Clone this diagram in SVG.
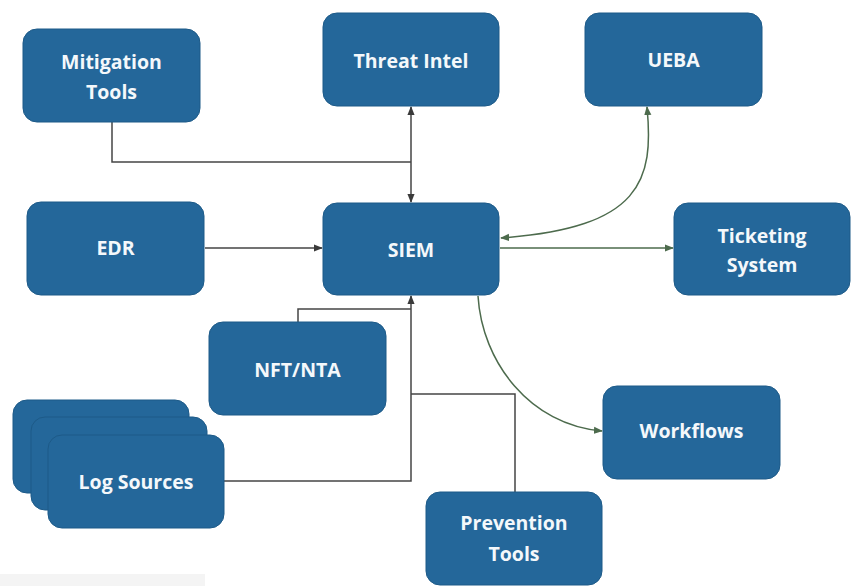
<svg xmlns="http://www.w3.org/2000/svg" width="853" height="586" viewBox="0 0 853 586">
<style>
.n{fill:#24679a;stroke:#1d5a88;stroke-width:1}
.t{fill:#f4f8fb;font-family:"Open Sans","Noto Sans",sans-serif;font-weight:bold;font-size:19.5px;text-anchor:middle}
.c{fill:none;stroke:#454545;stroke-width:1.5}
.g{fill:none;stroke:#4d6b4d;stroke-width:1.5}
</style>
<defs>
<marker id="a" viewBox="0 0 10 10" refX="9" refY="5" markerWidth="6" markerHeight="6" orient="auto-start-reverse"><path d="M0,1 L10,5 L0,9 z" fill="#3a3a3a"/></marker>
<marker id="ag" viewBox="0 0 10 10" refX="9" refY="5" markerWidth="6" markerHeight="6" orient="auto-start-reverse"><path d="M0,1 L10,5 L0,9 z" fill="#4d6b4d"/></marker>
</defs>
<rect x="0" y="0" width="853" height="586" fill="#ffffff"/>
<rect x="0" y="574" width="205" height="12" fill="#f4f4f4"/>
<g id="connectors">
<path class="c" d="M112,122 V162 H411"/>
<path class="c" d="M411,107 V202" marker-start="url(#a)" marker-end="url(#a)"/>
<path class="c" d="M205,248 H322" marker-end="url(#a)"/>
<path class="g" d="M500,248 H673" marker-end="url(#ag)"/>
<path class="g" d="M647,107 C654,180 642,228 501,238" marker-start="url(#ag)" marker-end="url(#ag)"/>
<path class="g" d="M478,296 C482,362 530,425 602,431" marker-end="url(#ag)"/>
<path class="c" d="M298,322 V309 H411"/>
<path class="c" d="M224,481 H411 V296" marker-end="url(#a)"/>
<path class="c" d="M515,492 V394 H411"/>
</g>
<g id="mitigation"><rect class="n" x="23" y="29" width="177" height="93" rx="14"/><text class="t" x="111.5" y="69">Mitigation</text><text class="t" x="111.5" y="99">Tools</text></g>
<g id="threat-intel"><rect class="n" x="323" y="13" width="176" height="93" rx="14"/><text class="t" x="411" y="68">Threat Intel</text></g>
<g id="ueba"><rect class="n" x="585" y="13" width="177" height="93" rx="14"/><text class="t" x="673.5" y="67">UEBA</text></g>
<g id="edr"><rect class="n" x="27" y="202" width="177" height="93" rx="14"/><text class="t" x="115.5" y="255">EDR</text></g>
<g id="siem"><rect class="n" x="323" y="203" width="176" height="92" rx="14"/><text class="t" x="411" y="257">SIEM</text></g>
<g id="ticketing"><rect class="n" x="674" y="203" width="176" height="92" rx="14"/><text class="t" x="762" y="243">Ticketing</text><text class="t" x="762" y="272">System</text></g>
<g id="nft-nta"><rect class="n" x="209" y="322" width="177" height="93" rx="14"/><text class="t" x="297.5" y="377">NFT/NTA</text></g>
<g id="log-sources"><rect class="n" x="13" y="400" width="176" height="93" rx="14"/><rect class="n" x="31" y="417" width="176" height="93" rx="14"/><rect class="n" x="48" y="435" width="176" height="93" rx="14"/><text class="t" x="136" y="489">Log Sources</text></g>
<g id="workflows"><rect class="n" x="603" y="386" width="177" height="93" rx="14"/><text class="t" x="691.5" y="438">Workflows</text></g>
<g id="prevention"><rect class="n" x="426" y="492" width="176" height="93" rx="14"/><text class="t" x="514" y="530">Prevention</text><text class="t" x="514" y="561">Tools</text></g>
</svg>
